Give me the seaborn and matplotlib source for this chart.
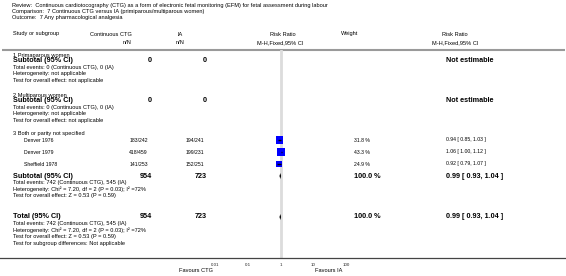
import matplotlib
matplotlib.use('Agg')
import matplotlib.pyplot as plt
from matplotlib.ticker import NullLocator
import seaborn as sns
import numpy as np
import pandas as pd

# data
studies = ['Denver 1976', 'Denver 1979', 'Sheffield 1978']
ctg_events = [183, 418, 141]
ctg_total = [242, 459, 253]
ia_events = [194, 199, 152]
ia_total = [241, 231, 251]
weights = [31.8, 43.3, 24.9]
rr = [0.94, 1.06, 0.92]
rr_lo = [0.85, 1.00, 0.79]
rr_hi = [1.03, 1.12, 1.07]
pooled = [0.99, 0.93, 1.04]
tick_values = [0.01, 0.1, 1, 10, 100]
tick_labels = ['0.01', '0.1', '1', '10', '100']

title_lines = [
    'Review:  Continuous cardiotocography (CTG) as a form of electronic fetal monitoring (EFM) for fetal assessment during labour',
    'Comparison:  7 Continuous CTG versus IA (primiparous/multiparous women)',
    'Outcome:  7 Any pharmacological analgesia',
]

sns.set_style('white')
plt.rcParams['font.family'] = ['Liberation Sans', 'DejaVu Sans']

W, H = 566, 276
fig = plt.figure(figsize=(W / 100, H / 100), dpi=100)

# text layer in pixel coordinates
ax_t = fig.add_axes([0, 0, 1, 1])
ax_t.set_xlim(0, W)
ax_t.set_ylim(H, 0)
ax_t.axis('off')

REG = 4.1
SMALL = 3.7
BOLD = 5.2


def txt(x, y, s, size=REG, ha='left', bold=False, color='black'):
    ax_t.text(x, y, s, fontsize=size, ha=ha, va='center',
              fontweight='bold' if bold else 'normal', color=color)


for y, line in zip([5, 11, 17], title_lines):
    txt(12, y, line)

# header
txt(13, 34, 'Study or subgroup')
txt(90, 34, 'Continuous CTG')
txt(127, 43, 'n/N', ha='center')
txt(177, 34, 'IA')
txt(180, 43, 'n/N', ha='center')
txt(283, 34, 'Risk Ratio', ha='center')
txt(280, 43, 'M-H,Fixed,95% CI', ha='center')
txt(350, 34, 'Weight', ha='center')
txt(455, 34, 'Risk Ratio', ha='center')
txt(455, 43, 'M-H,Fixed,95% CI', ha='center')
ax_t.plot([2, 565], [49.5, 49.5], color='#9a9a9a', lw=1.5, solid_capstyle='butt')

# empty subgroups
for top, name in [(55, '1 Primaparous women'), (95, '2 Multiparous women')]:
    txt(13, top, name)
    txt(13, top + 6, 'Subtotal (95% CI)', size=BOLD, bold=True)
    txt(152, top + 6, '0', size=BOLD, bold=True, ha='right')
    txt(207, top + 6, '0', size=BOLD, bold=True, ha='right')
    txt(446, top + 6, 'Not estimable', size=BOLD, bold=True)
    txt(13, top + 12.5, 'Total events: 0 (Continuous CTG), 0 (IA)')
    txt(13, top + 19, 'Heterogeneity: not applicable')
    txt(13, top + 25.5, 'Test for overall effect: not applicable')

txt(13, 134, '3 Both or parity not specified')
study_y = [140, 152, 164]
for i, y in enumerate(study_y):
    txt(24, y, studies[i], size=SMALL)
    txt(148, y, f'{ctg_events[i]}/{ctg_total[i]}', size=SMALL, ha='right')
    txt(204, y, f'{ia_events[i]}/{ia_total[i]}', size=SMALL, ha='right')
    txt(354, y, f'{weights[i]:.1f} %', size=SMALL)
    txt(446, y, f'{rr[i]:.2f} [ {rr_lo[i]:.2f}, {rr_hi[i]:.2f} ]', size=SMALL)

ev_ctg = sum(ctg_events)
ev_ia = sum(ia_events)
pooled_txt = f'{pooled[0]:.2f} [ {pooled[1]:.2f}, {pooled[2]:.2f} ]'
sum_rows = [(176, 'Subtotal (95% CI)'), (217, 'Total (95% CI)')]
for y, label in sum_rows:
    txt(13, y, label, size=BOLD, bold=True)
    txt(152, y, str(sum(ctg_total)), size=BOLD, bold=True, ha='right')
    txt(207, y, str(sum(ia_total)), size=BOLD, bold=True, ha='right')
    txt(354, y, f'{sum(weights):.1f} %', size=BOLD, bold=True)
    txt(446, y, pooled_txt, size=BOLD, bold=True)
    txt(13, y + 6.3, f'Total events: {ev_ctg} (Continuous CTG), {ev_ia} (IA)')
    txt(13, y + 12.8, 'Heterogeneity: Chi² = 7.20, df = 2 (P = 0.03); I² =72%')
    txt(13, y + 19.3, 'Test for overall effect: Z = 0.53 (P = 0.59)')
txt(13, 243, 'Test for subgroup differences: Not applicable')

txt(213, 271, 'Favours CTG', ha='right')
txt(315, 271, 'Favours IA')

# forest panel: log scale, 1 at x=280.5 px, 32.75 px per decade
x1, dec = 280.5, 32.75
axis_y, top_y = 258, 49.5
ax_f = fig.add_axes([0, (H - axis_y) / H, 1, (axis_y - top_y) / H])
ax_f.patch.set_alpha(0)
ax_f.set_xscale('log')
ax_f.set_xlim(10 ** (-x1 / dec), 10 ** ((W - x1) / dec))
ax_f.set_ylim(axis_y, top_y)

ax_f.axvline(1, color='#dcdcdc', lw=2, zorder=0)

df = pd.DataFrame({'rr': rr, 'lo': rr_lo, 'hi': rr_hi, 'w': weights, 'y': study_y})
wmin, wmax = min(weights), max(weights)
sns.scatterplot(data=df, x='rr', y='y', size='w', sizes=(0.8 * wmin, 0.8 * wmax),
                size_norm=(wmin, wmax), marker='s', color='#0000ff',
                edgecolor='none', legend=False, ax=ax_f, zorder=2)
ax_f.hlines(df['y'], df['lo'], df['hi'], color='black', lw=1.0, zorder=3)

for y, _ in sum_rows:
    ax_f.fill([pooled[1], pooled[0], pooled[2], pooled[0]],
              [y, y - 3, y, y + 3], color='black', lw=0, zorder=3)

for s in ['top', 'left', 'right']:
    ax_f.spines[s].set_visible(False)
ax_f.spines['bottom'].set_color('#444444')
ax_f.spines['bottom'].set_linewidth(0.9)
ax_f.set_xticks(tick_values)
ax_f.set_xticklabels(tick_labels)
ax_f.xaxis.set_minor_locator(NullLocator())
ax_f.set_yticks([])
ax_f.set_xlabel('')
ax_f.set_ylabel('')
ax_f.tick_params(axis='x', direction='in', length=2, width=0.6, color='#444444',
                 labelsize=3.2, pad=3.5)

fig.savefig('out.png', dpi=100)
